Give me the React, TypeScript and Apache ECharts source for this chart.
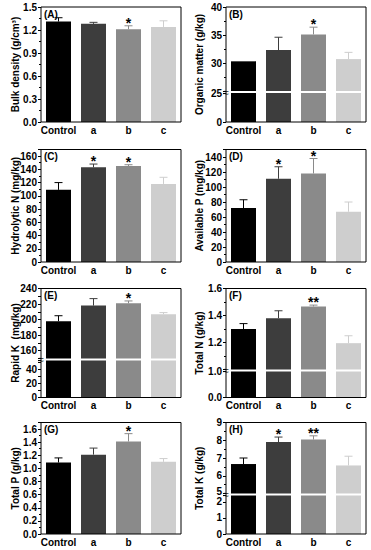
import React, { useEffect, useRef } from 'react';
import * as echarts from 'echarts';

// ---------- data ----------
const categories = ['Control', 'a', 'b', 'c'];
const barColors = ['#000000', '#3d3d3d', '#8a8a8a', '#cecece'];

const bulkDensity = [1.31, 1.28, 1.21, 1.24];
const bulkDensityErr = [0.05, 0.02, 0.045, 0.08];
const bulkDensitySig = ['', '', '*', ''];

const organicMatter = [30.3, 32.3, 35.1, 30.7];
const organicMatterErr = [0, 2.3, 1.3, 1.2];
const organicMatterSig = ['', '', '*', ''];

const hydrolyticN = [109, 143, 145, 118];
const hydrolyticNErr = [11, 5, 2, 10];
const hydrolyticNSig = ['', '*', '*', ''];

const availableP = [72, 111, 118, 67];
const availablePErr = [11, 16, 20, 13];
const availablePSig = ['', '*', '*', ''];

const rapidK = [198, 218, 221, 207];
const rapidKErr = [7, 9, 3, 2];
const rapidKSig = ['', '', '*', ''];

const totalN = [1.3, 1.38, 1.467, 1.195];
const totalNErr = [0.04, 0.055, 0.01, 0.055];
const totalNSig = ['', '', '**', ''];

const totalP = [1.09, 1.21, 1.41, 1.1];
const totalPErr = [0.07, 0.1, 0.12, 0.05];
const totalPSig = ['', '', '*', ''];

const totalK = [6.66, 7.9, 8.04, 6.58];
const totalKErr = [0.34, 0.28, 0.21, 0.52];
const totalKSig = ['', '*', '**', ''];

// ---------- layout / style ----------
const FONT = "'Liberation Sans', Arial, Helvetica, sans-serif";
const colLeft = [41, 226];
const titleX = [15.5, 199];
const plotW = 140;

const fixed1 = (v: number) => v.toFixed(1);
const int0 = (v: number) => String(Math.round(v));
const every = (step: number, digits: number) => (v: number) =>
  Math.abs(v / step - Math.round(v / step)) < 1e-6 ? v.toFixed(digits) : '';
// lift the label at the break a little so it does not sit on the label below it
const liftMin = (minV: number) => (v: number) =>
  Math.abs(v - minV) < 1e-9 ? '{up|' + Math.round(v) + '}' : String(Math.round(v));

type Seg = {
  top: number; bottom: number; min: number; max: number; interval: number;
  fmt: (v: number) => string; showMinLabel?: boolean; showMaxLabel?: boolean; minor?: number;
};
type Panel = {
  tag: string; title: string; values: number[]; errs: number[]; sig: string[];
  col: number; top: number; bottom: number; segs: Seg[];
};

const panels: Panel[] = [
  {
    tag: '(A)', title: 'Bulk density (g/cm³)', values: bulkDensity, errs: bulkDensityErr, sig: bulkDensitySig,
    col: 0, top: 7, bottom: 122,
    segs: [{ top: 7, bottom: 122, min: 0, max: 1.5, interval: 0.3, fmt: fixed1, minor: 2 }],
  },
  {
    tag: '(B)', title: 'Organic matter (g/kg)', values: organicMatter, errs: organicMatterErr, sig: organicMatterSig,
    col: 1, top: 7, bottom: 122,
    segs: [
      { top: 7, bottom: 91, min: 25, max: 40, interval: 5, fmt: int0, showMinLabel: false, minor: 2 },
      { top: 93, bottom: 122, min: 0, max: 25, interval: 25, fmt: int0 },
    ],
  },
  {
    tag: '(C)', title: 'Hydrolytic N (mg/kg)', values: hydrolyticN, errs: hydrolyticNErr, sig: hydrolyticNSig,
    col: 0, top: 149.5, bottom: 262,
    segs: [{ top: 149.5, bottom: 262, min: 0, max: 170, interval: 20, fmt: int0, showMaxLabel: false, minor: 2 }],
  },
  {
    tag: '(D)', title: 'Available P (mg/kg)', values: availableP, errs: availablePErr, sig: availablePSig,
    col: 1, top: 149.5, bottom: 262,
    segs: [{ top: 149.5, bottom: 262, min: 0, max: 150, interval: 20, fmt: int0, showMaxLabel: false, minor: 2 }],
  },
  {
    tag: '(E)', title: 'Rapid K  (mg/kg)', values: rapidK, errs: rapidKErr, sig: rapidKSig,
    col: 0, top: 288.5, bottom: 397.5,
    segs: [
      { top: 288.5, bottom: 358.5, min: 150, max: 240, interval: 10, fmt: every(20, 0) },
      { top: 360.5, bottom: 397.5, min: 0, max: 52, interval: 10, fmt: every(20, 0) },
    ],
  },
  {
    tag: '(F)', title: 'Total N (g/kg)', values: totalN, errs: totalNErr, sig: totalNSig,
    col: 1, top: 288.5, bottom: 397.5,
    segs: [
      { top: 288.5, bottom: 369.5, min: 1.0, max: 1.6, interval: 0.2, fmt: fixed1, showMinLabel: false, minor: 2 },
      { top: 371.5, bottom: 397.5, min: 0, max: 1.0, interval: 1.0, fmt: fixed1 },
    ],
  },
  {
    tag: '(G)', title: 'Total P (g/kg)', values: totalP, errs: totalPErr, sig: totalPSig,
    col: 0, top: 422.5, bottom: 534,
    segs: [{ top: 422.5, bottom: 534, min: 0, max: 1.7, interval: 0.2, fmt: fixed1, showMaxLabel: false, minor: 2 }],
  },
  {
    tag: '(H)', title: 'Total K (g/kg)', values: totalK, errs: totalKErr, sig: totalKSig,
    col: 1, top: 422.5, bottom: 534,
    segs: [
      { top: 422.5, bottom: 493.5, min: 5, max: 9, interval: 1, fmt: liftMin(5), minor: 2 },
      { top: 495.5, bottom: 534, min: 0, max: 2.4, interval: 1, fmt: every(1, 0) },
    ],
  },
];

function buildOption() {
  const grid: any[] = [];
  const xAxis: any[] = [];
  const yAxis: any[] = [];
  const series: any[] = [];
  const graphic: any[] = [];

  panels.forEach((p) => {
    const left = colLeft[p.col];
    p.segs.forEach((s, si) => {
      const gi = grid.length;
      const isBottom = si === p.segs.length - 1;
      grid.push({ left, top: s.top, width: plotW, height: s.bottom - s.top, show: false });
      xAxis.push({
        type: 'category', gridIndex: gi, data: categories,
        axisLine: { show: false }, axisTick: { show: false }, splitLine: { show: false },
        axisLabel: {
          show: isBottom, interval: 0, fontSize: 10, fontWeight: 'bold', color: '#000',
          margin: 3, fontFamily: FONT,
        },
      });
      yAxis.push({
        type: 'value', gridIndex: gi, min: s.min, max: s.max, interval: s.interval,
        axisLine: { show: false },
        axisTick: { show: true, length: 3, lineStyle: { color: '#000', width: 1 } },
        minorTick: { show: !!s.minor, splitNumber: s.minor || 2, length: 2, lineStyle: { color: '#000', width: 1 } },
        splitLine: { show: false }, minorSplitLine: { show: false },
        axisLabel: {
          formatter: s.fmt, fontSize: 10, fontWeight: 'bold', color: '#000', margin: 4, fontFamily: FONT,
          showMinLabel: s.showMinLabel, showMaxLabel: s.showMaxLabel,
          rich: {
            up: { fontSize: 10, fontWeight: 'bold', color: '#000', fontFamily: FONT, padding: [0, 0, 5, 0] },
          },
        },
      });
      series.push({
        type: 'bar', xAxisIndex: gi, yAxisIndex: gi, barWidth: 25, clip: true, silent: true,
        data: p.values.map((v, i) => ({ value: v, itemStyle: { color: barColors[i] } })),
      });
      if (si === 0) {
        const sig = p.sig;
        series.push({
          type: 'custom', xAxisIndex: gi, yAxisIndex: gi, silent: true, z: 5,
          encode: { x: 0, y: 1 },
          data: p.values.map((v, i) => [i, v, p.errs[i]]),
          renderItem: (params: any, api: any) => {
            const idx = api.value(0);
            const v = api.value(1);
            const e = api.value(2);
            const base = api.coord([idx, v]);
            const top = api.coord([idx, v + e]);
            const color = barColors[params.dataIndex];
            const children: any[] = [];
            if (e > 0) {
              children.push({
                type: 'line', shape: { x1: top[0], y1: base[1], x2: top[0], y2: top[1] },
                style: { stroke: color, lineWidth: 1 },
              });
              children.push({
                type: 'line', shape: { x1: top[0] - 4, y1: top[1], x2: top[0] + 4, y2: top[1] },
                style: { stroke: color, lineWidth: 1 },
              });
            }
            const star = sig[params.dataIndex];
            if (star) {
              children.push({
                type: 'text', x: top[0], y: top[1] - 3,
                style: {
                  text: star, fontSize: 14, fontWeight: 'bold', fontFamily: FONT, fill: '#000',
                  align: 'center', verticalAlign: 'middle',
                },
              });
            }
            return { type: 'group', children };
          },
        });
      }
    });

    // frame
    graphic.push({
      type: 'rect', silent: true, z: 10,
      shape: { x: left, y: p.top, width: plotW, height: p.bottom - p.top },
      style: { fill: 'none', stroke: '#000', lineWidth: 1 },
    });
    // break marks
    if (p.segs.length > 1) {
      const by = (p.segs[0].bottom + p.segs[1].top) / 2;
      graphic.push({
        type: 'text', silent: true, z: 11, x: left, y: by,
        style: { text: '≈', fontSize: 10, fontFamily: FONT, fill: '#000', align: 'center', verticalAlign: 'middle' },
      });
    }
    // y title
    graphic.push({
      type: 'text', silent: true, z: 11, x: titleX[p.col], y: (p.top + p.bottom) / 2, rotation: Math.PI / 2,
      style: {
        text: p.title, fontSize: 10, fontWeight: 'bold', fontFamily: FONT, fill: '#000',
        align: 'center', verticalAlign: 'middle',
      },
    });
    // panel tag
    graphic.push({
      type: 'text', silent: true, z: 11, x: left + 3, y: p.top + 7,
      style: {
        text: p.tag, fontSize: 10, fontWeight: 'bold', fontFamily: FONT, fill: '#000',
        align: 'left', verticalAlign: 'middle',
      },
    });
  });

  return {
    animation: false,
    backgroundColor: '#ffffff',
    textStyle: { fontFamily: FONT },
    grid, xAxis, yAxis, series, graphic,
  };
}

export default function App() {
  const ref = useRef<HTMLDivElement>(null);
  useEffect(() => {
    if (!ref.current) return;
    const chart = echarts.init(ref.current, undefined, { renderer: 'svg' });
    chart.setOption(buildOption() as any);
    return () => chart.dispose();
  }, []);
  return (
    <div
      ref={ref}
      style={{ position: 'absolute', left: 0, top: 0, width: 371, height: 550, background: '#fff' }}
    />
  );
}
